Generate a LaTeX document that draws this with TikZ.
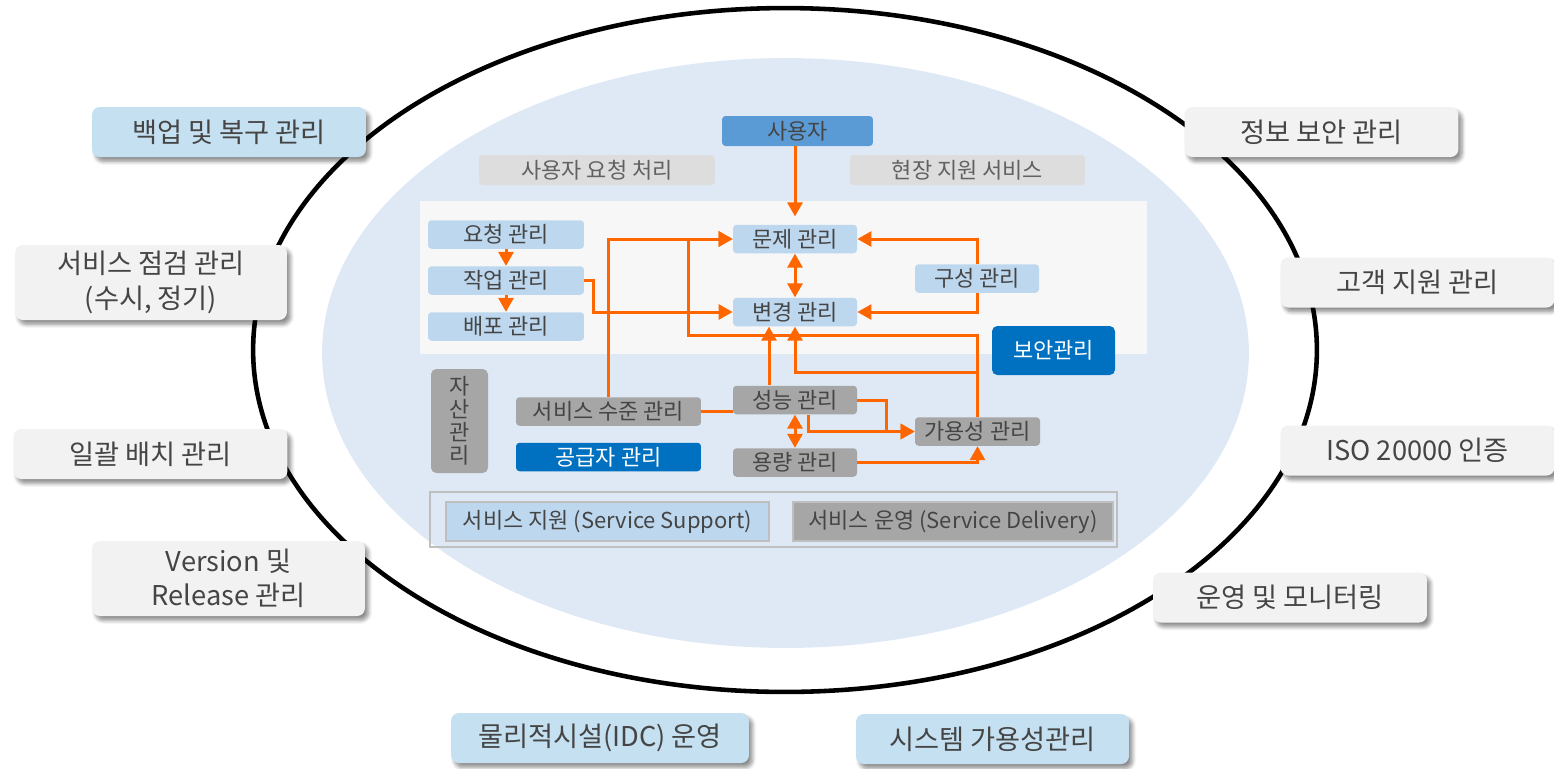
\documentclass[tikz,border=0pt]{standalone}
\usepackage{fontspec}
\setmainfont{Noto Sans CJK KR}
\usepackage{xcolor}
\usetikzlibrary{arrows.meta}
\usetikzlibrary{calc,shadows.blur}
\definecolor{ring}{HTML}{DEE9F5}
\definecolor{panel}{HTML}{F7F7F7}
\definecolor{skyb}{HTML}{BDD7EE}
\definecolor{outb}{HTML}{C5E0F1}
\definecolor{outg}{HTML}{F2F2F2}
\definecolor{midb}{HTML}{5B9BD5}
\definecolor{deepb}{HTML}{0070C0}
\definecolor{greyb}{HTML}{A6A6A6}
\definecolor{lgreyb}{HTML}{DDDDDD}
\definecolor{frame}{HTML}{BFBFBF}
\definecolor{txt}{HTML}{454545}
\definecolor{flow}{HTML}{FF6600}
\tikzset{> = {Triangle[length=8pt,width=8.5pt]}, color=txt,
  flw/.style={draw=flow,line width=1.7pt,->},
  ibox/.style={rounded corners=2pt,minimum height=.57cm,inner sep=0pt,text=txt,
    font=\fontsize{12.5}{14}\selectfont},
  obox/.style={rounded corners=4.5pt,minimum width=5.48cm,minimum height=1cm,inner sep=0pt,
    align=center,text=txt,fill=outg,font=\fontsize{15.5}{19.5}\selectfont,
    blur shadow={shadow xshift=2pt,shadow yshift=-2.5pt,shadow blur steps=6,shadow opacity=45}}}

\begin{document}
\begin{tikzpicture}[x=0.02cm,y=-0.02cm]
	\useasboundingbox (0,0) rectangle (1554,768);
	\draw[black,line width=2.6pt] (785,350) ellipse [x radius=10.64cm,y radius=6.84cm];
	\fill[ring] (785.5,353) ellipse [x radius=9.27cm,y radius=5.9cm];
	\fill[panel] (420,201) rectangle (1147,354);
	\draw[frame,line width=1.2pt] (430,492) rectangle (1117,547);

	\node[obox,fill=outb] (backup) at (229,132) {백업 및 복구 관리};
	\node[obox,minimum height=1.5cm,minimum width=5.44cm] (inspect) at (151,282.5) {서비스 점검 관리\\(수시, 정기)};
	\node[obox] (batch) at (150.5,454) {일괄 배치 관리};
	\node[obox,minimum height=1.5cm,minimum width=5.46cm] (version) at (228.5,578.5) {Version 및\\Release 관리};
	\node[obox] (infosec) at (1321.5,132) {정보 보안 관리};
	\node[obox] (care) at (1417.5,282.5) {고객 지원 관리};
	\node[obox] (iso) at (1417.5,450.5) {ISO 20000 인증};
	\node[obox] (monitor) at (1290,597.5) {운영 및 모니터링};
	\node[obox,fill=outb,minimum width=5.96cm] (idc) at (600,738) {물리적시설(IDC) 운영};
	\node[obox,fill=outb,minimum width=5.46cm] (sysav) at (992.5,739) {시스템 가용성관리};

	\node[ibox,fill=midb,minimum width=3.02cm,minimum height=.6cm] (user) at (797.5,131) {사용자};
	\node[ibox,fill=lgreyb,text=txt!85,minimum width=4.72cm,minimum height=.6cm] (reqproc) at (597,170) {사용자 요청 처리};
	\node[ibox,fill=lgreyb,text=txt!85,minimum width=4.7cm,minimum height=.6cm] (onsite) at (967.5,170) {현장 지원 서비스};
	\node[ibox,fill=skyb,minimum width=3.12cm] (req) at (506,234.5) {요청 관리};
	\node[ibox,fill=skyb,minimum width=3.12cm] (work) at (506,280.5) {작업 관리};
	\node[ibox,fill=skyb,minimum width=3.12cm] (deploy) at (506,326.5) {배포 관리};
	\node[ibox,fill=skyb,minimum width=2.48cm] (prob) at (795,239) {문제 관리};
	\node[ibox,fill=skyb,minimum width=2.48cm] (chg) at (795,312) {변경 관리};
	\node[ibox,fill=skyb,minimum width=2.48cm] (conf) at (977,278.5) {구성 관리};
	\node[ibox,fill=deepb,text=white,minimum width=2.46cm,minimum height=.98cm,rounded corners=3pt] (sec) at (1053.5,350.5) {보안관리};
	\node[ibox,fill=greyb,minimum width=1.14cm,minimum height=2.08cm,rounded corners=3pt,align=center,
		font=\fontsize{12.5}{13}\selectfont] (asset) at (459.5,421) {자\\산\\관\\리};
	\node[ibox,fill=greyb,minimum width=3.7cm] (slm) at (608.5,411.5) {서비스 수준 관리};
	\node[ibox,fill=deepb,text=white,minimum width=3.7cm] (supl) at (608.5,457) {공급자 관리};
	\node[ibox,fill=greyb,minimum width=2.48cm] (perf) at (795,400) {성능 관리};
	\node[ibox,fill=greyb,minimum width=2.48cm] (cap) at (795,462.5) {용량 관리};
	\node[ibox,fill=greyb,minimum width=2.5cm] (avail) at (977.5,431.5) {가용성 관리};
	\node[ibox,sharp corners,fill=skyb,draw=frame,line width=1.1pt,minimum width=6.46cm,minimum height=.78cm] (support) at (607.5,521.5) {서비스 지원 (Service Support)};
	\node[ibox,sharp corners,fill=greyb,draw=frame,line width=1.1pt,minimum width=6.4cm,minimum height=.78cm] (delivery) at (953,521.5) {서비스 운영 (Service Delivery)};

	\draw[flw,shorten >=4.5pt] (user.south -| prob.north) -- (prob.north);
	\draw[flw] (req) -- (work);
	\draw[flw] (work) -- (deploy);
	\draw[flw] (work.east) -- ++(9,0) |- (chg.west);
	\draw[flw] (slm.north) |- (prob.west);
	\draw[flw] (avail.north) |- (688,335) |- (prob.west);
	\draw[flw] (avail.north) |- ($(chg.south)+(0,46)$) -- (chg.south);
	\draw[flw] ($(perf.north)+(-26,0)$) -- ($(chg.south)+(-26,0)$);
	\draw[flw] (conf.north) |- (prob.east);
	\draw[flw] (conf.south) |- (chg.east);
	\draw[flw,<->] (prob) -- (chg);
	\draw[flw,-] (slm.east) -- (slm.east -| perf.west);
	\draw[flw] (perf.east) -- ++(29,0) |- (avail.west);
	\draw[flw] ($(perf.south)+(13,0)$) |- (avail.west);
	\draw[flw,<->] (perf) -- (cap);
	\draw[flw] (cap.east) -| (avail.south);
\end{tikzpicture}
\end{document}
